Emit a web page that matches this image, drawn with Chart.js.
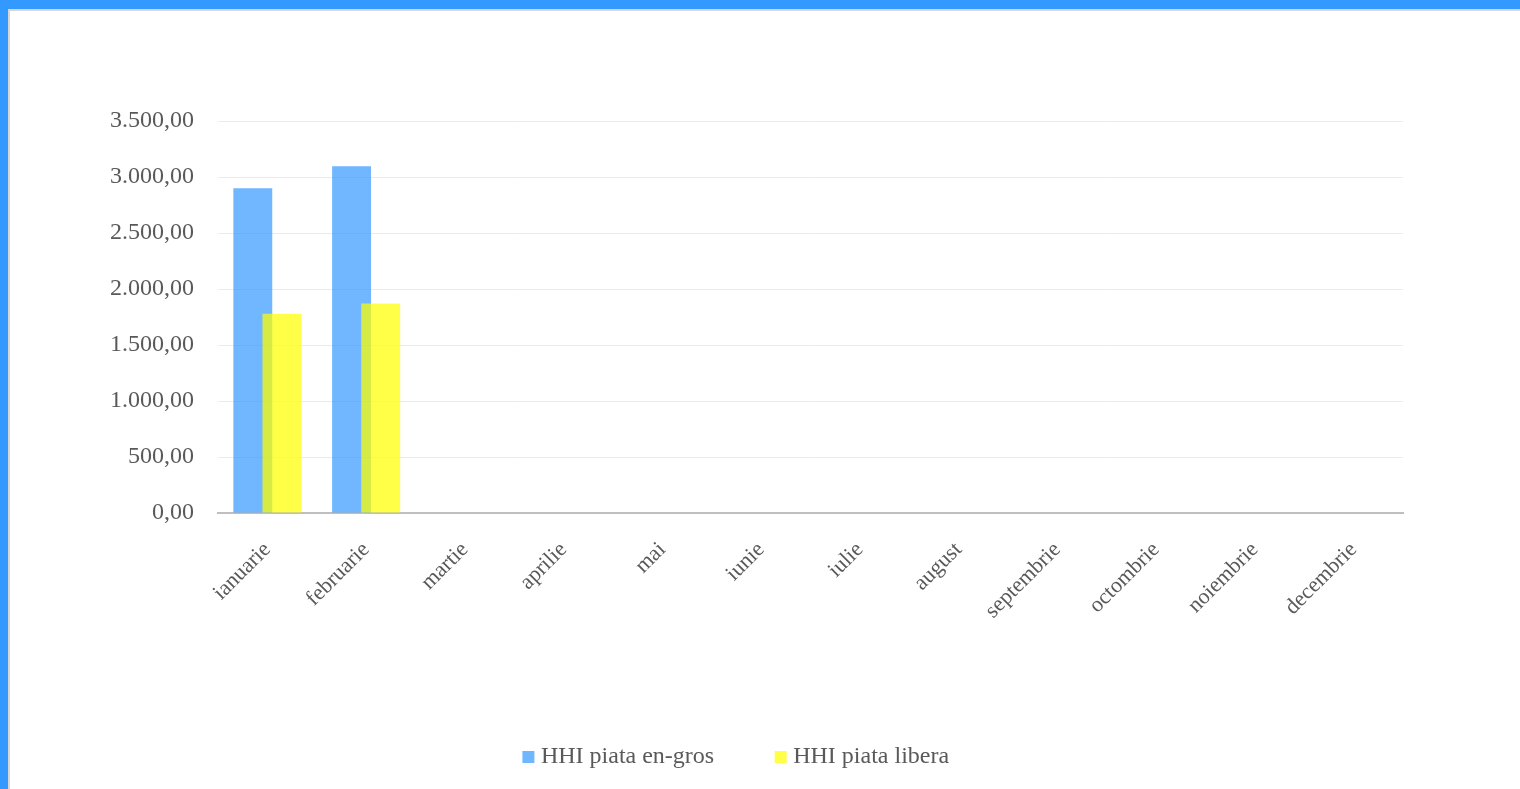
<!DOCTYPE html>
<html>
<head>
<meta charset="utf-8">
<script src="https://cdn.jsdelivr.net/npm/chart.js@4/dist/chart.umd.min.js"></script>
<style>
  html, body { margin: 0; padding: 0; background: #fff; }
  #frame {
    position: absolute; left: 0; top: 0; width: 1520px; height: 789px;
    box-sizing: border-box;
    border-top: 9px solid #3399ff; border-left: 8px solid #3399ff;
  }
  #inner {
    position: absolute; left: 0; top: 0; right: 0; bottom: 0;
    border-top: 2px solid #d6d6d6; border-left: 2px solid #d6d6d6;
  }
  #wrap { position: absolute; left: 10px; top: 11px; width: 1510px; height: 778px; }
</style>
</head>
<body>
<div id="frame"><div id="inner"></div></div>
<div id="wrap"><canvas id="hhiChart"></canvas></div>
<script>
// === DATA ===
const months = ["ianuarie", "februarie", "martie", "aprilie", "mai", "iunie",
    "iulie", "august", "septembrie", "octombrie", "noiembrie", "decembrie"];
const hhiEnGros = [2900, 3095, null, null, null, null, null, null, null, null, null, null];
const hhiLibera = [1780, 1870, null, null, null, null, null, null, null, null, null, null];
const seriesNames = ["HHI piata en-gros", "HHI piata libera"];
const yTicks = [0, 500, 1000, 1500, 2000, 2500, 3000, 3500];

// 3500 -> "3.500,00"
function formatRo(v) {
    const parts = v.toFixed(2).split(".");
    const intPart = parts[0].replace(/\B(?=(\d{3})+(?!\d))/g, ".");
    return intPart + "," + parts[1];
}

// blue first, yellow drawn over it
const drawOrder = {
    id: "drawOrder",
    beforeDatasetsDraw(chart) {
        chart.data.datasets.forEach((ds, i) => {
            const meta = chart.getDatasetMeta(i);
            if (meta.visible) meta.controller.draw();
        });
        return false;
    }
};

const textColor = "#595959";
const fontFamily = "'Liberation Serif', 'Times New Roman', serif";

new Chart(document.getElementById("hhiChart").getContext("2d"), {
    type: "bar",
    data: {
        labels: months,
        datasets: [
            { label: seriesNames[0], data: hhiEnGros, backgroundColor: "rgba(51,153,255,0.7)", borderWidth: 0 },
            { label: seriesNames[1], data: hhiLibera, backgroundColor: "rgba(255,255,0,0.72)", borderWidth: 0 }
        ]
    },
    options: {
        responsive: true,
        maintainAspectRatio: false,
        animation: false,
        categoryPercentage: 0.59,
        barPercentage: 1.335,
        layout: { padding: { left: 64, right: 117, top: 110, bottom: 10 } },
        plugins: {
            tooltip: { enabled: false },
            legend: {
                position: "bottom",
                labels: {
                    usePointStyle: true,
                    pointStyle: "rect",
                    boxWidth: 1,
                    boxHeight: 12,
                    padding: 66,
                    color: textColor,
                    font: { family: fontFamily, size: 24 }
                }
            }
        },
        scales: {
            x: {
                grid: { display: false, drawTicks: false },
                border: { display: true, color: "#bfbfbf", width: 2 },
                ticks: {
                    autoSkip: false,
                    minRotation: 45,
                    maxRotation: 45,
                    padding: 24,
                    color: textColor,
                    font: { family: fontFamily, size: 22 }
                },
                afterFit(scale) { scale.height = 166; }
            },
            y: {
                min: 0,
                max: 3500,
                afterBuildTicks(scale) { scale.ticks = yTicks.map(v => ({ value: v })); },
                grid: { color: "#ececec", lineWidth: 1, drawTicks: false },
                border: { display: false },
                ticks: {
                    padding: 24,
                    color: textColor,
                    font: { family: fontFamily, size: 24 },
                    callback: (v) => formatRo(v)
                },
                afterFit(scale) { scale.width = 144; }
            }
        }
    },
    plugins: [drawOrder]
});
</script>
</body>
</html>
